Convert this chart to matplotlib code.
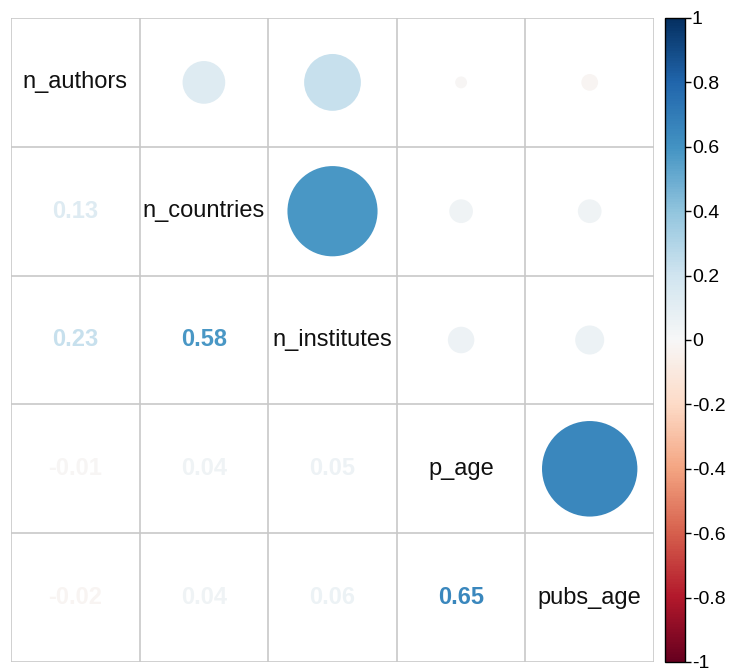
import numpy as np
import matplotlib
matplotlib.use("Agg")
import matplotlib.pyplot as plt
from matplotlib.patches import Circle
from matplotlib.colors import Normalize
from matplotlib.cm import ScalarMappable

plt.rcParams['font.family'] = ['Liberation Sans', 'DejaVu Sans']

names = ["n_authors", "n_countries", "n_institutes", "p_age", "pubs_age"]
corr = np.array([
    [1.00, 0.13, 0.23, -0.01, -0.02],
    [0.13, 1.00, 0.58, 0.04, 0.04],
    [0.23, 0.58, 1.00, 0.05, 0.06],
    [-0.01, 0.04, 0.05, 1.00, 0.65],
    [-0.02, 0.04, 0.06, 0.65, 1.00],
])
cbar_ticks = [-1, -0.8, -0.6, -0.4, -0.2, 0, 0.2, 0.4, 0.6, 0.8, 1]

W, H = 729, 668
fig = plt.figure(figsize=(W / 100, H / 100), dpi=100)
ax = fig.add_axes([11 / W, 6 / H, 643 / W, 644 / H])

cmap = plt.get_cmap("RdBu")
norm = Normalize(-1, 1)
n = len(names)

ax.set_xlim(0, n)
ax.set_ylim(n, 0)
for k in range(n + 1):
    ax.axvline(k, color="#c8c8c8", lw=1.2)
    ax.axhline(k, color="#c8c8c8", lw=1.2)

for i in range(n):
    for j in range(n):
        r = corr[i, j]
        cx, cy = j + 0.5, i + 0.5
        if i == j:
            ax.text(cx, cy, names[i], ha="center", va="center",
                    fontsize=17, color="#111111")
        elif j > i:
            rad = 0.46 * np.sqrt(abs(r))
            ax.add_patch(Circle((cx, cy), rad, color=cmap(norm(r)), lw=0))
        else:
            ax.text(cx, cy, f"{r:.2f}", ha="center", va="center",
                    fontsize=17, fontweight="bold", color=cmap(norm(r)))

ax.set_xticks([])
ax.set_yticks([])
for s in ax.spines.values():
    s.set_visible(False)

cax = fig.add_axes([665 / W, 6 / H, 20 / W, 644 / H])
cb = fig.colorbar(ScalarMappable(norm=norm, cmap=cmap), cax=cax, ticks=cbar_ticks)
cb.ax.set_yticklabels([f"{t:g}" for t in cbar_ticks])
cb.ax.tick_params(labelsize=14, length=4, width=1, pad=1)
cb.outline.set_linewidth(1)

fig.savefig("out.png", dpi=100)
